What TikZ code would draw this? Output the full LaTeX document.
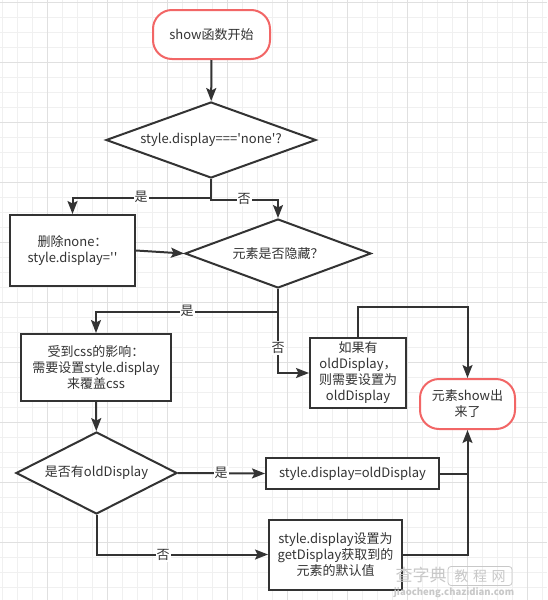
\documentclass[tikz,border=0pt]{standalone}
\usepackage{fontspec}
\setmainfont{Noto Sans CJK SC}[Ligatures=TeXOff]
\usetikzlibrary{shapes.geometric,arrows.meta}
\definecolor{ln}{HTML}{333333}
\definecolor{rd}{HTML}{F26666}
\definecolor{gmin}{HTML}{F0F0F0}
\definecolor{gmaj}{HTML}{E0E0E0}
\definecolor{wm}{HTML}{C8C8C8}
\begin{document}
\begin{tikzpicture}[x=1pt,y=-1pt,
  every node/.style={font=\fontsize{13}{16}\selectfont, text=ln, align=center, inner sep=0pt},
  boxnode/.style={draw=ln, line width=2pt, rectangle},
  termnode/.style={draw=rd, line width=2pt, rectangle, rounded corners=19pt, fill=white},
  decnode/.style={draw=ln, line width=2pt, diamond, fill=white},
  conn/.style={draw=ln, line width=2pt},
  arr/.style={conn, -{Stealth[length=13pt,width=10pt,inset=2.5pt]}},
  lab/.style={fill=white, inner sep=1pt}
]
\useasboundingbox (0,0) rectangle (547,600);
\fill[white] (0,0) rectangle (547,600);
% grid
\foreach \k in {0,...,36} {
  \draw[gmin, line width=1pt] (2.3+15*\k,0) -- (2.3+15*\k,600);
}
\foreach \k in {0,...,39} {
  \draw[gmin, line width=1pt] (0,2.3+15*\k) -- (547,2.3+15*\k);
}
\foreach \k in {0,...,8} {
  \draw[gmaj, line width=1pt] (47.3+60*\k,0) -- (47.3+60*\k,600);
}
\foreach \k in {0,...,9} {
  \draw[gmaj, line width=1pt] (0,2.3+60*\k) -- (547,2.3+60*\k);
}

% nodes
\node[termnode, minimum width=117pt, minimum height=49pt] (start) at (211.5,34.5) {show函数开始};
\node[decnode, minimum width=210pt, minimum height=76pt, shape aspect=2.76] (d1) at (211,140) {style.display==='none'?};
\node[boxnode, fill=white, minimum width=125pt, minimum height=71pt] (b1) at (72.5,250.5) {删除none：\\style.display=''};
\node[decnode, minimum width=186pt, minimum height=69pt, shape aspect=2.7] (d2) at (278,253.5) {元素是否隐藏？};
\node[boxnode, fill=white, minimum width=150pt, minimum height=67pt] (b2) at (96,367.5) {受到css的影响：\\需要设置style.display\\来覆盖css};
\node[boxnode, fill=white, minimum width=96pt, minimum height=70pt] (b3) at (358,373) {如果有\\oldDisplay，\\则需要设置为\\oldDisplay};
\node[termnode, minimum width=95pt, minimum height=50pt] (end) at (467.5,404) {元素show出\\来了};
\node[decnode, minimum width=161pt, minimum height=82pt, shape aspect=1.96] (d3) at (96.5,473) {是否有oldDisplay};
\node[boxnode, fill=white, minimum width=173pt, minimum height=31pt] (b4) at (352.5,473.5) {style.display=oldDisplay};
\node[boxnode, fill=white, minimum width=133pt, minimum height=70pt] (b5) at (335.5,554.5) {style.display设置为\\getDisplay获取到的\\元素的默认值};

% connectors
\draw[arr] (start) -- (d1);
\draw[arr] (d1.south) -- ++(0,19) -| (b1.north);
\node[lab] (l1) at (141,197) {是};
\draw[arr] (d1.south) -- ++(0,21) -| (d2.north);
\node[lab] (l2) at (244,199) {否};
\draw[arr] (b1.east) -- (d2.west);
\draw[arr] (d2.south) -- ++(0,23) -| (b2.north);
\node[lab] (l3) at (187,311) {是};
\draw[arr] (d2.south) |- (b3.west);
\node[lab] (l4) at (278,348) {否};
\draw[arr] (b3.north) -- ++(0,-30) -| (end.north);
\draw[arr] (b2) -- (d3);
\draw[arr] (d3.east) -- (b4.west);
\node[lab] (l5) at (221,473) {是};
\draw[conn] (b4.east) -- (end.south |- b4.east);
\draw[arr] (d3.south) |- (b5.west);
\node[lab] (l6) at (163,555) {否};
\draw[arr] (b5.east) -| (end.south);

% watermark
\node[font=\fontsize{17}{17}\selectfont, text=wm] (wm1) at (421,575) {查字典};
\node[draw=wm, line width=0.8pt, rounded corners=3pt, minimum width=64pt, minimum height=19pt, font=\fontsize{14}{14}\selectfont, text=wm] (wm2) at (480,576) {教\,\,程\,\,网};
\node[font=\fontsize{9.5}{10}\selectfont\bfseries, text=wm] (wm3) at (454,593) {jiaocheng.chazidian.com};
\end{tikzpicture}
\end{document}
